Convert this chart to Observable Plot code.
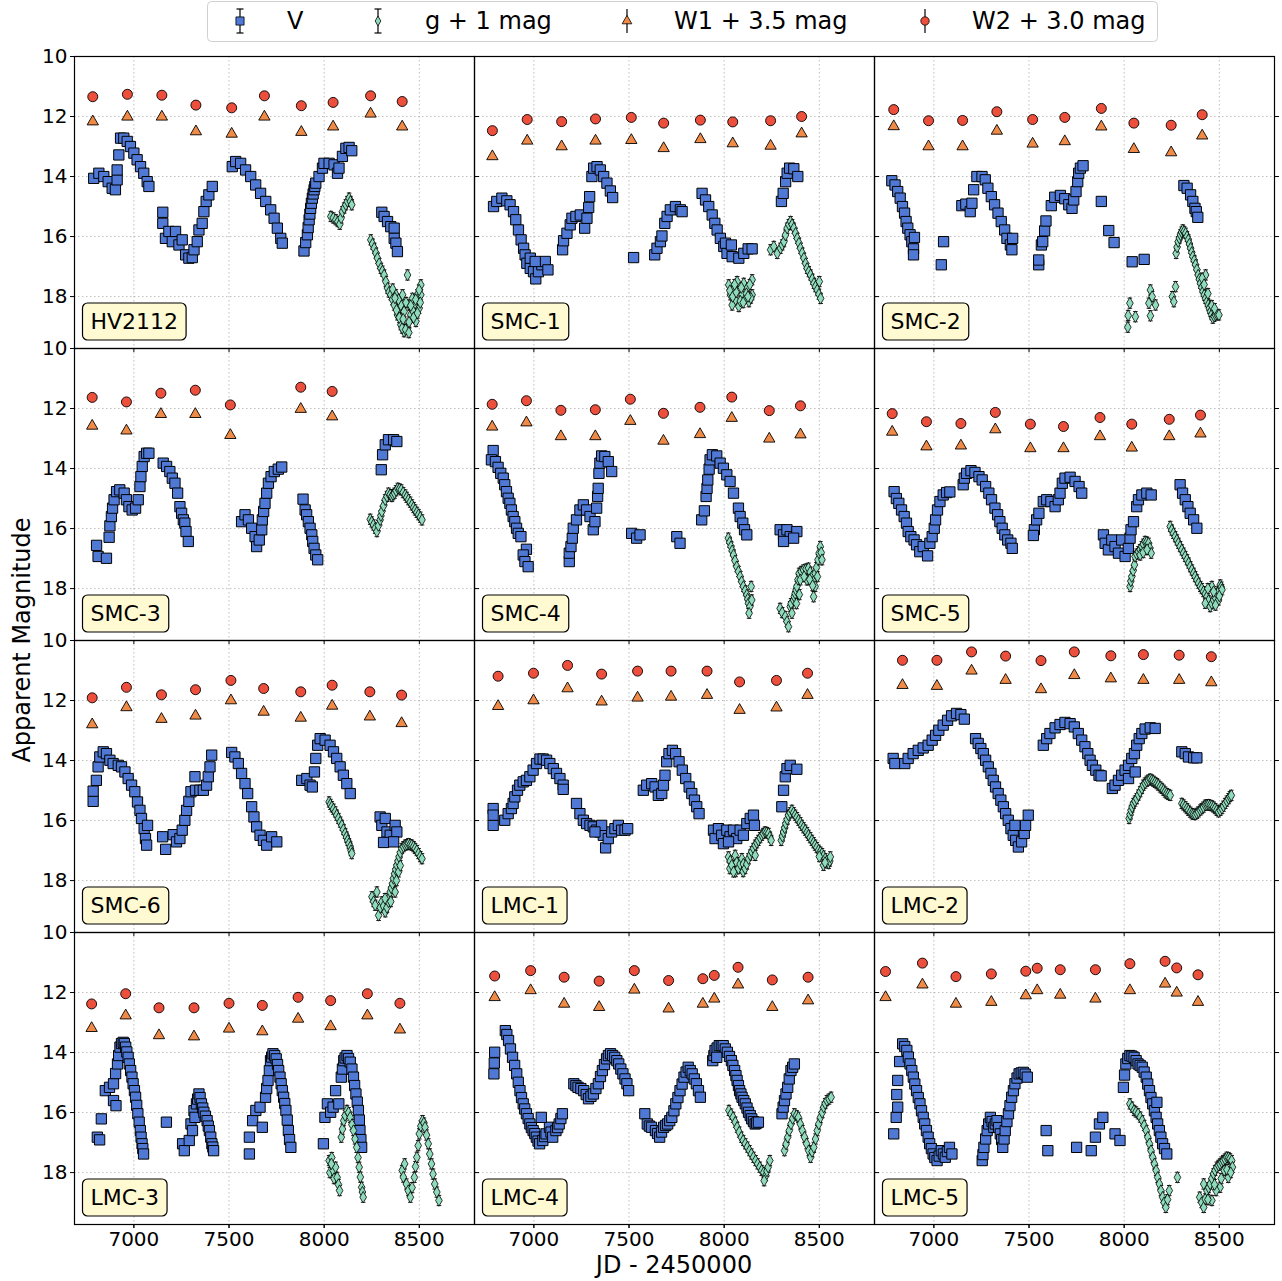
<!DOCTYPE html>
<html>
<head>
<meta charset="utf-8">
<script src="https://cdn.jsdelivr.net/npm/d3@7"></script>
<script src="https://cdn.jsdelivr.net/npm/@observablehq/plot@0.6"></script>
<style>
  html, body { margin: 0; padding: 0; background: white; }
  #wrap { position: relative; width: 1282px; height: 1281px; font-family: "DejaVu Sans", sans-serif; }
  #legend { position: absolute; left: 207px; top: 1px; }
</style>
</head>
<body>
<div id="wrap"><div id="legend"></div></div>
<script>
// ---------------- DATA ----------------
const panelNames = ["HV2112","SMC-1","SMC-2","SMC-3","SMC-4","SMC-5","SMC-6","LMC-1","LMC-2","LMC-3","LMC-4","LMC-5"];
const legendLabels = ["V", "g + 1 mag", "W1 + 3.5 mag", "W2 + 3.0 mag"];
const xTicks = [7000, 7500, 8000, 8500];
const yTicks = [10, 12, 14, 16, 18];
const gErr = 0.17;

const HV2112_W2 = [[6784,11.34],[6966,11.26],[7147,11.29],[7326,11.62],[7514,11.71],[7686,11.31],[7880,11.64],[8047,11.53],[8244,11.31],[8410,11.5]];
const HV2112_W1 = [[6784,12.17],[6966,12.01],[7147,12.01],[7326,12.5],[7514,12.58],[7686,12.01],[7880,12.52],[8047,12.34],[8244,11.91],[8410,12.34]];
const HV2112_V = [[6789,14.06],[6816,13.89],[6842,14.0],[6865,14.17],[6886,14.39],[6903,14.44],[6912,14.11],[6912,13.78],
[6921,13.28],[6930,12.72],[6947,12.72],[6965,12.83],[6982,13.0],[7000,13.22],[7017,13.44],[7035,13.67],[7052,13.89],[7070,14.17],[7079,14.33],
[7152,15.19],[7152,15.56],[7166,16.06],[7184,15.83],[7202,16.17],[7219,15.83],[7237,16.28],[7254,16.11],[7272,16.61],[7289,16.72],[7307,16.7],[7316,16.44],[7333,16.17],[7342,15.78],[7359,15.56],[7368,15.17],[7380,14.83],[7394,14.61],[7412,14.33],
[7517,13.67],[7535,13.5],[7561,13.56],[7587,13.78],[7614,14.0],[7640,14.28],[7666,14.56],[7693,14.83],[7719,15.11],[7737,15.39],[7754,15.72],[7772,16.06],[7780,16.22],
[7894,16.48],[7903,16.2],[7912,15.94],[7916,15.7],[7921,15.44],[7925,15.25],[7929,15.06],[7933,14.89],[7938,14.72],[7942,14.58],[7947,14.44],[7951,14.33],[7956,14.22],[7973,14.0],[7991,13.72],[7999,13.56],[8026,13.56],[8052,13.61],[8070,13.89],[8078,13.72],[8096,13.33],[8114,13.06],[8131,13.03],[8145,13.14],
[8303,15.19],[8315,15.33],[8333,15.5],[8350,15.67],[8368,15.72],[8368,16.06],[8377,16.22],[8385,16.5]];
const HV2112_g = [[8035,15.33],[8048,15.38],[8061,15.44],[8072,15.5],[8082,15.59],[8089,15.38],[8096,15.17],[8105,15.05],[8114,14.94],[8122,14.83],[8131,14.72],[8138,14.83],[8145,14.94],
[8245,16.11],[8254,16.25],[8263,16.39],[8272,16.55],[8280,16.72],[8289,16.9],[8298,17.06],[8306,17.15],[8315,17.28],[8324,17.5],[8333,17.72],[8341,17.85],[8350,17.94],[8359,18.1],[8368,18.28],[8385,18.61],[8403,18.94],[8420,19.17],[8438,19.06],[8455,18.61],[8473,18.28],[8490,17.94],[8508,17.61],[8438,17.28],[8412,17.94],[8464,18.06],[8499,18.39],[8394,18.39],[8377,17.94],[8403,18.28],[8447,18.28],[8482,18.83],[8508,17.94],
[8380,18.45],[8395,18.7],[8410,19.05],[8428,19.1],[8446,18.85],[8464,18.45],[8481,18.1],[8499,17.78],[8390,18.1],[8420,18.5],[8430,18.2],[8455,18.3],[8470,18.7],[8490,18.55],[8505,18.2],[8415,18.75],[8445,19.2],[8360,17.75],[8372,18.05]];

const SMC1_W2 = [[6782,12.47],[6965,12.1],[7146,12.17],[7324,12.08],[7512,12.03],[7682,12.22],[7875,12.12],[8045,12.18],[8244,12.14],[8407,12.0]];
const SMC1_W1 = [[6782,13.33],[6965,12.81],[7146,13.0],[7324,12.81],[7512,12.79],[7682,13.06],[7875,12.76],[8045,12.9],[8244,12.98],[8407,12.57]];
const SMC1_V = [[6788,15.0],[6805,14.83],[6832,14.72],[6858,14.81],[6875,14.94],[6893,15.17],[6905,15.44],[6919,15.78],[6933,16.11],[6946,16.39],[6954,16.61],[6963,16.89],[6981,17.06],[6998,17.17],[7010,17.41],[7024,17.17],[7042,16.94],[7060,16.83],[7074,17.11],[6981,16.72],[7007,16.83],
[7151,16.44],[7156,16.14],[7174,15.89],[7191,15.61],[7200,15.39],[7221,15.33],[7244,15.28],[7267,15.72],[7279,15.39],[7288,15.03],[7293,14.67],
[7305,14.0],[7314,13.72],[7332,13.67],[7349,13.78],[7367,14.0],[7384,14.22],[7402,14.48],[7414,14.7],
[7524,16.7],[7635,16.61],[7647,16.39],[7665,16.17],[7673,15.98],[7688,15.56],[7700,15.33],[7717,15.11],[7744,15.0],[7770,15.11],[7779,15.17],
[7884,14.56],[7902,14.78],[7919,15.0],[7937,15.28],[7951,15.56],[7963,15.78],[7980,16.06],[7998,16.33],[8015,16.56],[8042,16.67],[8077,16.72],[8103,16.56],[8126,16.41],[8147,16.41],[8007,16.22],[8038,16.28],
[8301,14.83],[8310,14.56],[8323,14.17],[8331,13.89],[8344,13.72],[8366,13.74],[8387,14.0]];
const SMC1_g = [[8024,17.61],[8033,17.94],[8051,17.72],[8059,18.11],[8077,18.33],[8094,17.94],[8103,17.56],[8121,17.72],[8130,18.17],[8147,17.44],[8147,17.94],[8068,17.5],[8042,18.28],[8112,18.06],
[8030,17.8],[8045,18.0],[8063,17.85],[8085,18.15],[8100,18.2],[8117,17.9],[8135,17.6],[8140,18.05],[8055,17.6],[8090,17.7],[8125,18.0],
[8244,16.44],[8261,16.33],[8279,16.56],[8296,16.39],[8305,16.28],[8314,16.17],[8322,15.95],[8331,15.72],[8340,15.6],[8349,15.5],[8357,15.6],[8366,15.72],[8375,15.89],[8384,16.06],[8393,16.22],[8401,16.39],[8410,16.55],[8419,16.72],[8428,16.9],[8436,17.06],[8445,17.17],[8454,17.28],[8463,17.42],[8472,17.56],[8480,17.67],[8489,17.78],[8498,17.92],[8507,18.06],[8500,17.5]];

const SMC2_W2 = [[6789,11.77],[6972,12.14],[7151,12.13],[7331,11.84],[7519,12.1],[7688,12.03],[7880,11.73],[8051,12.22],[8247,12.29],[8410,11.94]];
const SMC2_W1 = [[6789,12.33],[6972,13.0],[7151,13.0],[7331,12.48],[7519,12.91],[7688,12.83],[7880,12.34],[8051,13.09],[8247,13.2],[8410,12.64]];
const SMC2_V = [[6779,14.14],[6796,14.28],[6810,14.5],[6823,14.72],[6835,15.0],[6846,15.22],[6854,15.5],[6863,15.72],[6875,15.94],[6884,16.17],[6893,16.41],[6893,16.61],[6898,16.03],
[7051,16.17],[7039,16.94],
[7147,14.97],[7168,14.92],[7191,15.17],[7200,14.89],[7209,14.44],[7226,14.0],[7253,14.0],[7270,14.11],[7284,14.39],[7302,14.67],[7319,14.94],[7337,15.22],[7354,15.5],[7372,15.78],[7384,16.06],[7402,16.28],[7414,16.06],[7410,16.44],
[7551,16.94],[7551,16.78],[7565,16.28],[7572,16.17],[7582,15.81],[7589,15.48],[7617,14.97],[7635,14.69],[7665,14.63],[7688,14.74],[7709,14.94],[7726,15.06],[7735,14.78],[7747,14.5],[7756,14.17],[7761,13.89],[7770,13.72],[7784,13.64],
[7880,14.83],[7919,15.8],[7947,16.2],[8042,16.84],[8105,16.76],
[8314,14.3],[8331,14.39],[8349,14.61],[8361,14.83],[8372,15.06],[8379,15.17],[8387,15.36]];
const SMC2_g = [[8030,18.22],[8021,18.63],[8059,18.67],[8019,19.02],[8138,17.78],[8147,18.0],[8130,18.22],[8165,18.28],[8138,18.64],[8270,17.67],[8253,18.0],[8261,18.17],[8273,16.56],[8278,16.35],[8284,16.17],[8290,16.05],[8296,15.94],[8302,15.85],[8308,15.78],[8315,15.83],[8323,15.89],[8330,16.0],[8337,16.11],[8343,16.25],[8349,16.39],[8355,16.53],[8361,16.67],[8368,16.8],[8375,16.94],[8382,17.1],[8389,17.28],[8395,17.42],[8401,17.56],[8408,17.7],[8414,17.83],[8421,17.95],[8428,18.06],[8435,18.17],[8442,18.28],[8448,18.39],[8454,18.5],[8460,18.6],[8466,18.72],[8473,18.66],[8480,18.61],[8489,18.6],[8498,18.61],[8428,17.28],[8410,17.39],[8420,17.6],[8440,17.9],[8460,18.3],[8475,18.4]];

const SMC3_W2 = [[6781,11.63],[6961,11.78],[7142,11.49],[7323,11.39],[7507,11.88],[7877,11.29],[8042,11.43]];
const SMC3_W1 = [[6781,12.58],[6961,12.74],[7142,12.19],[7323,12.19],[7507,12.89],[7877,12.02],[8042,12.27]];
const SMC3_V = [[6804,16.56],[6812,16.93],[6856,16.99],[6870,16.29],[6874,15.91],[6882,15.6],[6888,15.32],[6896,15.04],[6909,14.77],[6926,14.71],[6949,14.82],[6961,15.04],[6974,15.27],[6991,15.38],[7009,15.32],[7023,15.04],[7032,14.6],[7037,14.27],[7044,13.93],[7054,13.6],[7067,13.49],[7079,13.49],
[7154,13.82],[7172,13.93],[7189,14.1],[7202,14.32],[7216,14.49],[7230,14.82],[7242,15.27],[7251,15.49],[7260,15.71],[7268,15.82],[7274,16.1],[7286,16.43],
[7566,15.77],[7584,15.54],[7602,15.71],[7619,15.99],[7637,16.27],[7645,16.6],[7659,16.38],[7672,16.04],[7675,15.71],[7682,15.43],[7689,15.16],[7698,14.82],[7707,14.49],[7721,14.27],[7738,14.1],[7759,14.02],[7777,13.95],
[7889,15.02],[7900,15.38],[7908,15.54],[7917,15.77],[7926,15.99],[7935,16.21],[7940,16.43],[7947,16.66],[7956,16.88],[7966,17.04],
[8300,14.04],[8307,13.54],[8321,13.21],[8338,13.04],[8365,13.04],[8382,13.1]];
const SMC3_g = [[8242,15.69],[8250,15.78],[8259,15.88],[8268,15.99],[8277,16.1],[8285,15.9],[8294,15.71],[8298,15.57],[8303,15.43],[8312,15.24],[8321,15.04],[8330,14.93],[8338,14.82],[8347,14.87],[8356,14.93],[8362,14.87],[8370,14.82],[8378,14.74],[8387,14.66],[8396,14.68],[8405,14.71],[8415,14.8],[8426,14.88],[8434,14.96],[8443,15.04],[8452,15.12],[8461,15.21],[8470,15.3],[8478,15.38],[8487,15.46],[8496,15.54],[8505,15.62],[8514,15.71]];

const SMC4_W2 = [[6781,11.86],[6961,11.74],[7142,12.06],[7323,12.04],[7507,11.69],[7681,12.16],[7873,11.96],[8040,11.62],[8237,12.07],[8401,11.91]];
const SMC4_W1 = [[6781,12.61],[6961,12.47],[7142,12.93],[7323,12.93],[7507,12.42],[7681,13.08],[7873,12.86],[8040,12.32],[8237,13.01],[8401,12.87]];
const SMC4_V = [[6786,13.4],[6777,13.71],[6798,13.77],[6812,13.96],[6826,14.16],[6839,14.32],[6847,14.54],[6856,14.77],[6865,14.99],[6874,15.16],[6882,15.38],[6891,15.6],[6900,15.77],[6909,15.99],[6918,16.16],[6932,16.27],[6961,16.69],[6944,16.88],[6953,17.1],[6970,17.27],
[7186,17.1],[7186,16.82],[7195,16.6],[7202,16.32],[7207,15.99],[7224,15.71],[7242,15.38],[7260,15.21],[7277,15.38],[7295,15.6],[7312,16.04],[7321,15.77],[7330,15.32],[7335,14.93],[7338,14.66],[7342,14.16],[7347,13.82],[7356,13.58],[7373,13.6],[7391,13.77],[7409,14.1],
[7514,16.16],[7540,16.32],[7558,16.21],[7751,16.27],[7768,16.49],
[7882,15.71],[7896,15.41],[7905,14.93],[7910,14.66],[7914,14.38],[7921,14.02],[7926,13.71],[7938,13.54],[7961,13.58],[7979,13.82],[7996,13.99],[8014,14.21],[8031,14.43],[8049,14.82],[8075,15.32],[8084,15.6],[8098,15.82],[8107,16.04],[8119,16.21],
[8294,16.04],[8312,16.21],[8330,16.04],[8347,16.27],[8382,16.1],[8312,16.43],[8365,16.32]];
const SMC4_g = [[8022,16.32],[8029,16.46],[8036,16.6],[8042,16.74],[8049,16.88],[8057,17.07],[8066,17.27],[8075,17.43],[8084,17.6],[8092,17.77],[8101,17.93],[8110,18.07],[8119,18.21],[8124,18.35],[8128,18.49],[8135,18.6],[8131,18.82],[8145,18.38],[8142,17.93],
[8294,18.66],[8305,18.8],[8321,18.93],[8330,19.1],[8338,19.27],[8347,18.6],[8352,18.5],[8365,18.38],[8369,18.27],[8373,18.16],[8378,18.05],[8382,17.93],[8388,17.7],[8394,17.49],[8405,17.43],[8417,17.38],[8430,17.35],[8443,17.32],[8452,17.45],[8461,17.6],[8470,17.75],[8478,17.93],[8478,17.49],[8485,17.3],[8493,17.04],[8499,16.82],[8505,16.6],[8510,16.8],[8514,17.04],[8470,18.27],[8356,18.82],[8400,17.71],[8435,17.71],[8420,17.6],[8450,17.7],[8465,17.9],[8490,17.6],[8380,18.5],[8395,18.2]];

const SMC5_W2 = [[6781,12.17],[6961,12.44],[7142,12.5],[7323,12.13],[7507,12.52],[7681,12.6],[7873,12.3],[8040,12.52],[8237,12.36],[8401,12.22]];
const SMC5_W1 = [[6781,12.78],[6961,13.27],[7142,13.24],[7323,12.7],[7507,13.33],[7681,13.33],[7873,12.93],[8040,13.31],[8237,12.93],[8401,12.84]];
const SMC5_V = [[6791,14.77],[6803,15.0],[6816,15.16],[6830,15.38],[6844,15.6],[6856,15.82],[6865,16.1],[6879,16.27],[6896,16.38],[6909,16.54],[6926,16.77],[6944,16.6],[6967,16.91],[6979,16.49],[6991,16.27],[7002,15.99],[7009,15.71],[7019,15.38],[7032,15.1],[7049,14.88],[7067,14.8],[7084,14.78],
[7154,14.54],[7160,14.32],[7172,14.16],[7195,14.07],[7216,14.13],[7237,14.27],[7254,14.38],[7272,14.6],[7289,14.82],[7303,15.04],[7321,15.32],[7335,15.54],[7347,15.77],[7359,15.99],[7373,16.21],[7388,16.38],[7405,16.49],[7412,16.66],
[7528,16.04],[7523,16.23],[7540,15.71],[7552,15.49],[7575,15.1],[7593,15.04],[7615,15.1],[7637,15.27],[7654,15.04],[7663,14.82],[7675,14.49],[7689,14.32],[7716,14.29],[7742,14.43],[7763,14.6],[7777,14.82],
[7891,16.21],[7900,16.49],[7917,16.71],[7935,16.38],[7952,16.6],[7970,16.82],[7987,16.38],[8005,16.93],[8022,16.66],[8031,16.32],[8036,16.04],[8049,15.77],[8066,15.27],[8075,15.04],[8093,14.88],[8119,14.82],[8142,14.88],
[8294,14.54],[8307,14.82],[8321,15.04],[8335,15.27],[8347,15.49],[8365,15.71],[8382,15.99]];
const SMC5_g = [[8031,17.93],[8035,17.75],[8040,17.6],[8047,17.4],[8054,17.21],[8057,16.93],[8066,16.85],[8075,16.77],[8084,16.7],[8093,16.6],[8101,16.52],[8110,16.43],[8119,16.45],[8128,16.49],[8135,16.65],[8142,16.82],[8084,16.88],[8100,16.8],[8120,16.7],
[8242,15.93],[8250,16.05],[8259,16.16],[8268,16.27],[8277,16.38],[8285,16.49],[8294,16.6],[8303,16.71],[8312,16.82],[8321,16.93],[8330,17.04],[8339,17.15],[8347,17.27],[8356,17.38],[8365,17.49],[8373,17.6],[8382,17.71],[8391,17.82],[8400,17.93],[8408,18.0],[8417,18.1],[8426,18.18],[8435,18.27],[8443,18.4],[8452,18.6],[8461,18.5],[8470,18.38],[8479,18.3],[8487,18.16],[8496,18.1],[8505,17.88],[8510,17.95],[8514,18.04],[8461,17.93],[8496,18.38],[8426,18.49],[8440,18.0],[8470,18.1],[8500,18.25],[8480,18.55]];

const SMC6_W2 = [[6781,11.91],[6961,11.56],[7145,11.81],[7324,11.64],[7510,11.33],[7682,11.6],[7877,11.71],[8042,11.49],[8240,11.71],[8407,11.82]];
const SMC6_W1 = [[6781,12.8],[6961,12.23],[7145,12.62],[7324,12.51],[7510,12.0],[7682,12.38],[7877,12.58],[8042,12.18],[8240,12.54],[8407,12.76]];
const SMC6_V = [[6786,15.36],[6786,15.02],[6803,14.66],[6812,14.21],[6821,13.88],[6839,13.71],[6856,13.77],[6874,13.99],[6891,14.1],[6918,14.16],[6935,14.21],[6953,14.38],[6970,14.6],[6988,14.82],[7005,15.04],[7019,15.38],[7032,15.66],[7040,15.93],[7054,16.27],[7061,16.6],[7067,16.82],[7072,16.16],
[7151,16.54],[7167,16.96],[7207,16.47],[7224,16.71],[7242,16.6],[7254,16.32],[7268,15.99],[7277,15.66],[7289,15.36],[7300,15.04],[7321,14.54],[7324,14.99],[7347,14.99],[7365,14.99],[7382,14.82],[7391,14.54],[7400,14.21],[7409,13.82],
[7514,13.73],[7531,13.88],[7549,14.1],[7566,14.43],[7584,14.77],[7598,15.1],[7619,15.54],[7631,15.88],[7645,16.21],[7663,16.49],[7681,16.66],[7698,16.82],[7724,16.54],[7751,16.71],
[7882,14.66],[7909,14.6],[7926,14.82],[7938,14.88],[7949,14.38],[7956,13.93],[7966,13.49],[7979,13.27],[8005,13.32],[8031,13.49],[8049,13.71],[8066,13.93],[8084,14.21],[8101,14.49],[8119,14.77],[8137,15.1],
[8294,15.88],[8303,16.16],[8321,15.93],[8330,16.38],[8347,16.49],[8373,16.16],[8382,16.38],[8312,16.73],[8365,16.71]];
const SMC6_g = [[8026,15.38],[8033,15.46],[8040,15.54],[8049,15.62],[8058,15.71],[8066,15.82],[8075,15.93],[8084,16.05],[8093,16.16],[8101,16.3],[8110,16.43],[8117,16.55],[8124,16.66],[8130,16.77],[8137,16.88],[8141,17.0],[8145,17.1],
[8251,18.54],[8260,18.7],[8268,18.82],[8277,18.38],[8286,19.16],[8295,18.9],[8303,18.71],[8312,18.85],[8321,19.04],[8330,18.9],[8338,18.71],[8343,18.55],[8347,18.38],[8353,18.25],[8359,18.1],[8364,17.93],[8370,17.77],[8376,17.63],[8382,17.49],[8388,17.35],[8394,17.21],[8400,17.07],[8408,16.93],[8417,16.87],[8426,16.82],[8435,16.8],[8443,16.77],[8452,16.8],[8461,16.82],[8470,16.87],[8478,16.93],[8487,17.0],[8496,17.1],[8505,17.2],[8514,17.27],[8391,17.71],[8373,18.38],[8320,18.6],[8350,18.7],[8380,18.0],[8400,17.5]];

const LMC1_W2 = [[6812,11.19],[6998,11.09],[7177,10.83],[7356,11.12],[7545,11.02],[7721,11.02],[7910,11.02],[8081,11.38],[8275,11.33],[8438,11.09]];
const LMC1_W1 = [[6812,12.19],[6998,12.0],[7177,11.6],[7356,12.04],[7545,11.91],[7721,11.88],[7910,11.82],[8081,12.32],[8275,12.24],[8438,11.82]];
const LMC1_V = [[6786,15.6],[6786,16.16],[6786,15.82],[6847,15.99],[6865,15.77],[6882,15.6],[6891,15.43],[6900,15.21],[6914,14.99],[6926,14.82],[6944,14.71],[6961,14.66],[6979,14.54],[6996,14.32],[7014,14.1],[7032,13.95],[7049,13.95],[7067,13.99],[7084,14.1],[7102,14.27],[7119,14.43],[7137,14.6],[7154,14.82],[7154,14.96],
[7224,15.43],[7242,15.77],[7260,15.99],[7277,16.1],[7295,16.16],[7312,16.21],[7330,16.32],[7347,16.38],[7365,16.49],[7377,16.91],[7391,16.6],[7409,16.38],[7426,16.27],[7444,16.16],[7461,16.32],[7479,16.32],[7493,16.27],[7356,16.16],[7321,16.38],
[7575,14.99],[7593,14.82],[7619,14.77],[7637,14.88],[7654,15.16],[7672,15.1],[7681,14.82],[7689,14.49],[7698,14.04],[7710,13.77],[7728,13.66],[7745,13.77],[7763,14.04],[7780,14.32],[7798,14.6],[7816,14.88],[7830,15.1],[7844,15.32],[7856,15.54],[7868,15.77],
[7944,16.32],[7952,16.6],[7970,16.27],[7987,16.49],[7996,16.77],[8014,16.32],[8031,16.54],[8049,16.32],[8066,16.6],[8084,16.32],[8101,16.49],[8119,16.1],[8137,15.93],[8154,15.82],[8159,16.16],[8023,16.71],
[8303,15.54],[8312,14.99],[8321,14.54],[8330,14.27],[8347,14.16],[8382,14.29]];
const LMC1_g = [[8023,17.21],[8030,17.6],[8032,17.35],[8040,17.49],[8058,17.16],[8060,17.7],[8066,17.4],[8075,17.6],[8084,17.45],[8093,17.27],[8100,17.7],[8101,17.45],[8110,17.6],[8119,17.45],[8128,17.27],[8137,17.15],[8145,17.04],[8154,16.93],[8163,16.82],[8172,16.74],[8180,16.66],[8189,16.57],[8198,16.49],[8206,16.43],[8215,16.38],[8224,16.4],[8233,16.43],[8240,16.55],[8247,16.66],[8049,17.71],[8163,17.16],
[8300,16.66],[8306,16.52],[8312,16.38],[8318,16.24],[8324,16.1],[8331,15.96],[8338,15.82],[8347,15.74],[8356,15.66],[8365,15.74],[8373,15.82],[8382,15.9],[8391,15.99],[8400,16.07],[8408,16.16],[8417,16.24],[8426,16.32],[8435,16.4],[8443,16.49],[8452,16.57],[8461,16.66],[8470,16.74],[8478,16.82],[8487,16.9],[8496,16.99],[8505,17.05],[8514,17.1],[8522,17.18],[8531,17.27],[8540,17.35],[8549,17.43],[8555,17.35],[8558,17.21],[8522,17.49],[8500,17.2],[8530,17.4]];

const LMC2_W2 = [[6835,10.66],[7016,10.66],[7198,10.38],[7377,10.52],[7563,10.67],[7738,10.38],[7930,10.51],[8101,10.47],[8289,10.49],[8458,10.54]];
const LMC2_W1 = [[6835,11.49],[7016,11.52],[7198,11.01],[7377,11.32],[7563,11.63],[7738,11.16],[7930,11.27],[8101,11.32],[8289,11.32],[8458,11.4]];
const LMC2_V = [[6786,13.93],[6795,14.1],[6847,14.1],[6865,13.93],[6891,13.77],[6918,13.66],[6944,13.58],[6970,13.49],[6991,13.32],[7009,13.16],[7026,12.99],[7049,12.82],[7072,12.66],[7093,12.51],[7119,12.43],[7142,12.47],[7160,12.62],
[7219,13.27],[7233,13.43],[7247,13.6],[7260,13.77],[7272,13.99],[7286,14.21],[7300,14.43],[7312,14.66],[7324,14.88],[7338,15.1],[7352,15.32],[7365,15.54],[7377,15.77],[7391,15.99],[7405,16.27],[7417,16.49],[7430,16.66],[7444,16.88],[7461,16.71],[7475,16.43],[7482,16.16],[7496,15.82],[7426,16.16],
[7575,13.49],[7593,13.27],[7610,13.1],[7637,12.91],[7663,12.8],[7689,12.73],[7716,12.77],[7738,12.88],[7759,13.1],[7777,13.32],[7794,13.54],[7809,13.77],[7821,13.99],[7833,14.16],[7851,14.32],[7868,14.49],[7879,14.51],
[7938,14.93],[7952,14.82],[7970,14.66],[7987,14.49],[8005,14.32],[8023,14.16],[8040,13.93],[8054,13.77],[8066,13.49],[8079,13.27],[8093,13.1],[8110,12.95],[8137,12.91],[8163,12.93],[8023,14.6],[8058,14.38],
[8303,13.71],[8321,13.77],[8338,13.88],[8365,13.91],[8382,13.91]];
const LMC2_g = [[8026,15.93],[8031,15.8],[8036,15.66],[8042,15.55],[8049,15.43],[8057,15.35],[8066,15.27],[8075,15.15],[8084,15.04],[8093,14.93],[8101,14.82],[8110,14.75],[8119,14.69],[8128,14.65],[8137,14.62],[8146,14.65],[8154,14.69],[8163,14.73],[8172,14.77],[8180,14.82],[8189,14.88],[8198,14.93],[8207,14.99],[8215,15.05],[8224,15.1],[8233,15.13],[8242,15.16],
[8303,15.43],[8312,15.48],[8321,15.54],[8330,15.6],[8338,15.66],[8347,15.72],[8356,15.77],[8364,15.79],[8373,15.8],[8382,15.76],[8391,15.71],[8400,15.65],[8408,15.6],[8417,15.55],[8426,15.49],[8435,15.48],[8443,15.47],[8452,15.49],[8461,15.51],[8470,15.55],[8478,15.6],[8487,15.66],[8496,15.71],[8505,15.66],[8514,15.6],[8522,15.52],[8531,15.43],[8540,15.35],[8549,15.27],[8556,15.2],[8563,15.16]];

const LMC3_W2 = [[6778,12.38],[6957,12.04],[7132,12.51],[7316,12.51],[7500,12.36],[7675,12.43],[7863,12.16],[8034,12.27],[8227,12.04],[8398,12.36]];
const LMC3_W1 = [[6778,13.19],[6957,12.77],[7132,13.43],[7316,13.47],[7500,13.21],[7675,13.3],[7863,12.88],[8034,13.13],[8227,12.77],[8398,13.24]];
const LMC3_V = [[6808,16.82],[6820,16.91],[6829,16.21],[6850,15.27],[6872,15.16],[6893,15.6],[6906,15.77],[6893,15.04],[6904,14.7],[6914,14.38],[6920,14.1],[6927,13.82],[6935,13.7],[6944,13.66],[6950,13.7],[6957,13.82],[6963,13.98],[6970,14.16],[6976,14.38],[6983,14.6],[6990,14.82],[6996,15.04],[7003,15.27],[7009,15.49],[7015,15.76],[7021,16.04],[7028,16.32],[7034,16.6],[7038,16.82],[7043,17.04],[7047,17.2],[7051,17.38],
[7171,16.32],
[7256,17.04],[7265,17.27],[7291,16.93],[7300,16.38],[7308,16.6],[7316,15.94],[7321,16.16],[7329,15.71],[7335,15.55],[7342,15.38],[7348,15.5],[7355,15.71],[7362,15.85],[7368,15.99],[7376,16.12],[7385,16.27],[7391,16.45],[7397,16.6],[7404,16.82],[7410,17.04],[7415,17.15],[7419,17.27],
[7607,16.82],[7607,17.38],[7624,16.27],[7641,15.93],[7663,15.82],[7675,16.49],[7692,15.49],[7698,15.2],[7705,14.93],[7712,14.6],[7718,14.27],[7724,14.15],[7731,14.04],[7740,14.1],[7748,14.21],[7755,14.4],[7761,14.6],[7768,14.82],[7774,15.04],[7780,15.27],[7787,15.49],[7793,15.7],[7799,15.93],[7806,16.25],[7812,16.6],[7818,16.9],[7825,17.16],
[7996,17.04],[8004,16.16],[8017,15.71],[8034,15.99],[8047,15.82],[8060,15.27],[8077,15.71],[8090,14.82],[8096,14.55],[8103,14.27],[8110,14.18],[8120,14.1],[8128,14.2],[8137,14.32],[8146,14.55],[8154,14.82],[8160,15.1],[8167,15.38],[8174,15.65],[8180,15.93],[8185,16.25],[8188,16.6],[8193,16.9],[8197,17.16]];
const LMC3_g = [[8026,17.6],[8030,18.0],[8040,17.5],[8047,17.93],[8052,18.2],[8068,18.16],[8075,18.4],[8081,18.6],[8090,16.82],[8096,16.55],[8103,16.27],[8110,16.1],[8120,15.93],[8128,16.0],[8137,16.16],[8146,16.4],[8154,16.6],[8162,16.88],[8171,17.16],[8178,17.5],[8184,17.82],[8190,18.15],[8197,18.49],[8201,18.65],[8205,18.82],[8060,17.82],[8038,17.71],
[8410,17.93],[8416,18.15],[8423,17.71],[8432,18.38],[8442,18.6],[8453,18.82],[8462,18.5],[8474,18.16],[8480,17.8],[8487,17.49],[8494,17.1],[8500,16.71],[8508,16.45],[8517,16.27],[8524,16.35],[8530,16.49],[8538,16.75],[8547,17.04],[8555,17.38],[8564,17.71],[8572,18.05],[8581,18.38],[8592,18.65],[8603,18.93]];

const LMC4_W2 = [[6794,11.45],[6983,11.27],[7159,11.49],[7343,11.62],[7528,11.27],[7708,11.6],[7888,11.54],[7948,11.43],[8073,11.16],[8253,11.58],[8441,11.49]];
const LMC4_W1 = [[6794,12.16],[6983,11.93],[7159,12.38],[7343,12.49],[7528,11.91],[7708,12.54],[7888,12.38],[7948,12.21],[8073,11.74],[8253,12.49],[8441,12.27]];
const LMC4_V = [[6790,14.71],[6792,14.35],[6794,13.99],[6850,13.27],[6858,13.4],[6867,13.6],[6877,13.88],[6888,14.16],[6899,14.43],[6910,14.71],[6918,14.99],[6927,15.27],[6935,15.5],[6944,15.71],[6952,15.88],[6961,16.04],[6970,16.2],[6979,16.38],[6987,16.5],[6996,16.6],[7005,16.7],[7013,16.82],[7022,16.95],[7030,17.04],[7047,16.93],[7056,16.8],[7064,16.71],[7082,16.49],[7090,16.65],[7099,16.82],[7116,16.6],[7125,16.5],[7133,16.38],[7142,16.2],[7150,16.04],[7039,16.16],
[7210,15.04],[7221,15.1],[7232,15.16],[7247,15.2],[7262,15.27],[7275,15.4],[7287,15.54],[7300,15.46],[7313,15.38],[7326,15.2],[7339,15.04],[7350,14.8],[7360,14.6],[7371,14.4],[7382,14.21],[7392,14.1],[7403,14.04],[7414,14.1],[7425,14.16],[7436,14.27],[7446,14.38],[7457,14.55],[7468,14.71],[7479,14.88],[7489,15.04],[7498,15.27],
[7583,16.04],[7596,16.38],[7607,16.45],[7618,16.49],[7639,16.6],[7650,16.7],[7661,16.82],[7671,16.65],[7682,16.49],[7693,16.43],[7703,16.38],[7714,16.27],[7725,16.16],[7736,15.94],[7746,15.71],[7757,15.5],[7768,15.27],[7779,15.05],[7789,14.82],[7800,14.65],[7811,14.49],[7822,14.6],[7832,14.71],[7843,14.88],[7854,15.04],[7865,15.27],[7875,15.49],
[7940,14.27],[7946,14.1],[7952,13.93],[7963,13.85],[7974,13.77],[7985,13.77],[7995,13.77],[8006,13.88],[8017,13.99],[8028,14.13],[8038,14.27],[8046,14.43],[8055,14.6],[8062,14.77],[8068,14.93],[8075,15.1],[8081,15.27],[8088,15.38],[8094,15.49],[8103,15.6],[8111,15.71],[8120,15.85],[8128,15.99],[8137,16.1],[8145,16.21],[8154,16.3],[8163,16.38],[8171,16.35],[8180,16.32],[7961,14.16],
[8304,16.04],[8310,15.82],[8317,15.6],[8325,15.38],[8334,15.16],[8342,14.88],[8351,14.6],[8360,14.49],[8369,14.38]];
const LMC4_g = [[8025,15.93],[8036,16.05],[8047,16.16],[8058,16.32],[8068,16.49],[8079,16.65],[8090,16.82],[8100,16.93],[8111,17.04],[8122,17.15],[8133,17.27],[8143,17.38],[8154,17.49],[8165,17.6],[8176,17.71],[8187,17.82],[8197,17.93],[8208,18.0],[8219,18.1],[8225,17.95],[8231,17.82],[8210,18.27],[8240,17.6],
[8317,17.27],[8325,17.05],[8334,16.82],[8342,16.6],[8351,16.38],[8360,16.2],[8369,16.04],[8380,16.1],[8390,16.16],[8400,16.38],[8411,16.6],[8422,16.82],[8433,17.04],[8444,17.27],[8454,17.49],[8462,17.3],[8471,17.16],[8480,16.88],[8489,16.6],[8497,16.38],[8506,16.16],[8515,16.0],[8523,15.82],[8531,15.7],[8540,15.6],[8551,15.55],[8562,15.49]];

const LMC5_W2 = [[6746,11.3],[6940,11.02],[7116,11.47],[7302,11.38],[7483,11.29],[7543,11.19],[7664,11.24],[7849,11.24],[8030,11.04],[8215,10.96],[8276,11.18],[8388,11.41]];
const LMC5_W1 = [[6746,12.16],[6940,11.74],[7116,12.38],[7302,12.32],[7483,12.1],[7543,11.93],[7664,12.08],[7849,12.21],[8030,11.93],[8215,11.71],[8276,12.01],[8388,12.32]];
const LMC5_V = [[6789,16.71],[6802,16.16],[6805,15.4],[6810,15.82],[6810,14.93],[6820,14.3],[6836,13.71],[6847,13.8],[6858,13.93],[6866,14.15],[6875,14.38],[6884,14.6],[6892,14.82],[6900,15.05],[6909,15.27],[6918,15.5],[6927,15.71],[6935,15.94],[6944,16.16],[6952,16.38],[6961,16.6],[6970,16.82],[6978,17.04],[6987,17.2],[6996,17.38],[7005,17.5],[7017,17.6],[7028,17.45],[7039,17.27],[7050,17.38],[7060,17.49],[7071,17.3],[7082,17.16],[7095,17.38],
[7254,17.6],[7258,17.4],[7263,17.16],[7272,16.88],[7280,16.6],[7288,16.38],[7297,16.16],[7306,16.3],[7315,16.49],[7323,16.38],[7332,16.27],[7340,16.5],[7349,16.71],[7356,16.9],[7362,17.16],[7369,16.88],[7375,16.6],[7384,16.3],[7392,16.04],[7400,15.77],[7409,15.49],[7418,15.27],[7426,15.04],[7437,14.85],[7448,14.71],[7459,14.68],[7470,14.66],[7480,14.72],[7491,14.82],
[7590,16.6],[7599,17.27],[7750,17.16],[7827,17.27],[7849,16.82],[7870,16.38],[7888,16.16],[7952,16.71],[7978,16.93],
[7996,15.16],[8002,14.75],[8009,14.38],[8019,14.2],[8030,14.1],[8041,14.12],[8052,14.16],[8063,14.27],[8073,14.38],[8084,14.43],[8095,14.49],[8105,14.65],[8116,14.82],[8124,15.05],[8133,15.27],[8141,15.5],[8150,15.71],[8159,15.94],[8168,16.16],[8176,16.38],[8185,16.6],[8193,16.82],[8202,17.04],[8212,17.2],[8224,17.38],[8172,15.66]];
const LMC5_g = [[8030,15.71],[8041,15.82],[8052,15.93],[8062,15.98],[8073,16.04],[8084,16.15],[8095,16.27],[8105,16.43],[8116,16.6],[8124,16.82],[8133,17.04],[8141,17.27],[8150,17.49],[8159,17.71],[8168,17.93],[8176,18.16],[8185,18.38],[8193,18.6],[8202,18.82],[8210,19.0],[8219,19.16],[8228,18.9],[8237,18.6],[8280,18.16],
[8397,18.82],[8407,19.0],[8418,19.16],[8426,18.88],[8435,18.6],[8444,18.5],[8452,18.38],[8461,18.2],[8470,18.04],[8478,17.93],[8487,17.82],[8496,17.76],[8504,17.71],[8513,17.65],[8521,17.6],[8530,17.55],[8539,17.49],[8548,17.5],[8556,17.54],[8565,17.6],[8418,18.38],[8461,18.93],[8504,18.49],[8547,18.16],[8526,17.93],[8483,18.6],[8569,17.82],[8440,18.9],[8475,18.4],[8510,18.2],[8540,17.9],[8560,18.0]];

const panelV  = [HV2112_V, SMC1_V, SMC2_V, SMC3_V, SMC4_V, SMC5_V, SMC6_V, LMC1_V, LMC2_V, LMC3_V, LMC4_V, LMC5_V];
const panelG  = [HV2112_g, SMC1_g, SMC2_g, SMC3_g, SMC4_g, SMC5_g, SMC6_g, LMC1_g, LMC2_g, LMC3_g, LMC4_g, LMC5_g];
const panelW1 = [HV2112_W1, SMC1_W1, SMC2_W1, SMC3_W1, SMC4_W1, SMC5_W1, SMC6_W1, LMC1_W1, LMC2_W1, LMC3_W1, LMC4_W1, LMC5_W1];
const panelW2 = [HV2112_W2, SMC1_W2, SMC2_W2, SMC3_W2, SMC4_W2, SMC5_W2, SMC6_W2, LMC1_W2, LMC2_W2, LMC3_W2, LMC4_W2, LMC5_W2];

// ---------------- STYLE ----------------
const COL_V = "#4f79d4", COL_G = "#8fdcbc", COL_W1 = "#f08a47", COL_W2 = "#ec4f3c";
const FONT = "DejaVu Sans";

function flatten(list) {
  const out = [];
  list.forEach((arr, i) => arr.forEach(([jd, mag]) => out.push({jd, mag, col: i % 3, row: Math.floor(i / 3)})));
  return out;
}
const dV = flatten(panelV), dG = flatten(panelG), dW1 = flatten(panelW1), dW2 = flatten(panelW2);
const labels = panelNames.map((name, i) => ({name, col: i % 3, row: Math.floor(i / 3)}));

const capSymbol = { draw(ctx, size) { const w = Math.sqrt(size); ctx.moveTo(-w / 2, 0); ctx.lineTo(w / 2, 0); } };

const fmt = d => String(d);
const blank = () => "";
const plot = Plot.plot({
  width: 1282, height: 1281,
  marginTop: 55, marginLeft: 73, marginRight: 8, marginBottom: 57,
  style: {fontFamily: FONT, fontSize: "20px", color: "black", background: "white"},
  x: {domain: [6688, 8790], label: null},
  y: {domain: [10, 19.73], reverse: true, label: null},
  fx: {domain: [0, 1, 2], padding: 0, axis: null},
  fy: {domain: [0, 1, 2, 3], padding: 0, axis: null},
  marks: [
    Plot.gridX({ticks: xTicks, stroke: "#b8b8b8", strokeOpacity: 1, strokeWidth: 0.9, strokeDasharray: "1.5,2.5"}),
    Plot.gridY({ticks: yTicks.slice(1), stroke: "#b8b8b8", strokeOpacity: 1, strokeWidth: 0.9, strokeDasharray: "1.5,2.5"}),
    Plot.axisY({ticks: yTicks, tickSize: 4, tickPadding: 3, tickFormat: fmt, fontSize: 20, label: null}),
    Plot.axisX({ticks: xTicks, tickSize: 4, tickPadding: 3, tickFormat: fmt, fontSize: 20, label: null}),
    Plot.axisY({anchor: "right", ticks: yTicks.slice(1), tickSize: 4, tickFormat: blank, label: null, facetAnchor: null}),
    Plot.axisX({anchor: "bottom", ticks: xTicks, tickSize: 4, tickFormat: blank, label: null, facetAnchor: null}),
    Plot.dot(dV, {x: "jd", y: "mag", fx: "col", fy: "row", symbol: "square", r: 5.8, fill: COL_V, stroke: "black", strokeWidth: 1}),
    Plot.ruleX(dG, {x: "jd", y1: d => d.mag - gErr, y2: d => d.mag + gErr, fx: "col", fy: "row", stroke: "black", strokeWidth: 0.9}),
    Plot.dot(dG, {x: "jd", y: d => d.mag - gErr, fx: "col", fy: "row", symbol: capSymbol, r: 2.6, stroke: "black", strokeWidth: 0.9}),
    Plot.dot(dG, {x: "jd", y: d => d.mag + gErr, fx: "col", fy: "row", symbol: capSymbol, r: 2.6, stroke: "black", strokeWidth: 0.9}),
    Plot.dot(dG, {x: "jd", y: "mag", fx: "col", fy: "row", symbol: "diamond", r: 3.5, fill: COL_G, stroke: "black", strokeWidth: 0.8}),
    Plot.dot(dW1, {x: "jd", y: "mag", fx: "col", fy: "row", symbol: "triangle", r: 4.2, fill: COL_W1, stroke: "black", strokeWidth: 0.9}),
    Plot.dot(dW2, {x: "jd", y: "mag", fx: "col", fy: "row", symbol: "circle", r: 5.0, fill: COL_W2, stroke: "black", strokeWidth: 0.9}),
    Plot.frame({stroke: "black", strokeWidth: 1.2}),
    Plot.text(labels, {fx: "col", fy: "row", text: "name", frameAnchor: "bottom-left", dx: 16, dy: -19.5, textAnchor: "start", fontSize: 22, fill: "black"})
  ]
});

const wrap = document.getElementById("wrap");
wrap.insertBefore(plot, wrap.firstChild);

// label boxes behind panel names
const nameSet = new Set(panelNames);
plot.querySelectorAll("text").forEach(t => {
  if (!nameSet.has(t.textContent)) return;
  const bb = t.getBBox();
  const r = document.createElementNS("http://www.w3.org/2000/svg", "rect");
  r.setAttribute("x", bb.x - 8);
  r.setAttribute("y", bb.y - 6);
  r.setAttribute("width", bb.width + 16);
  r.setAttribute("height", bb.height + 12);
  r.setAttribute("rx", 5);
  r.setAttribute("fill", "#fffad2");
  r.setAttribute("stroke", "black");
  r.setAttribute("stroke-width", 1.2);
  const tr = t.getAttribute("transform");
  if (tr) r.setAttribute("transform", tr);
  t.parentNode.insertBefore(r, t);
});

// axis titles
const svg = d3.select(plot);
svg.append("text").attr("transform", "translate(22,640) rotate(-90)")
  .attr("text-anchor", "middle").attr("dy", "0.35em")
  .style("font-family", FONT).style("font-size", "24px").attr("fill", "black")
  .text("Apparent Magnitude");
svg.append("text").attr("x", 674).attr("y", 1265)
  .attr("text-anchor", "middle").attr("dy", "0.35em")
  .style("font-family", FONT).style("font-size", "24px").attr("fill", "black")
  .text("JD - 2450000");

// legend
const legendColors = [COL_V, COL_G, COL_W1, COL_W2];
const legendSymbols = [d3.symbolSquare, d3.symbolDiamond, d3.symbolTriangle, d3.symbolCircle];
const legendR = [4.6, 3.0, 3.6, 4.2];
const legendCaps = [true, true, false, false];
const lsvg = d3.select("#legend").append("svg").attr("width", 952).attr("height", 43);
lsvg.append("rect").attr("x", 0.5).attr("y", 0.5).attr("width", 950).attr("height", 40).attr("rx", 4)
  .attr("fill", "white").attr("stroke", "#d0d0d0").attr("stroke-width", 1);
const itemX = [33, 171, 420, 718];
legendLabels.forEach((lab, i) => {
  const g = lsvg.append("g").attr("transform", `translate(${itemX[i]},20)`);
  g.append("line").attr("y1", -12).attr("y2", 12).attr("stroke", "black").attr("stroke-width", 1.2);
  if (legendCaps[i]) {
    g.append("line").attr("x1", -3.5).attr("x2", 3.5).attr("y1", -12).attr("y2", -12).attr("stroke", "black").attr("stroke-width", 1.2);
    g.append("line").attr("x1", -3.5).attr("x2", 3.5).attr("y1", 12).attr("y2", 12).attr("stroke", "black").attr("stroke-width", 1.2);
  }
  g.append("path").attr("d", d3.symbol(legendSymbols[i], Math.PI * legendR[i] * legendR[i])())
    .attr("fill", legendColors[i]).attr("stroke", "black").attr("stroke-width", 0.8);
  lsvg.append("text").attr("x", itemX[i] + 47).attr("y", 20).attr("dy", "0.35em")
    .style("font-family", FONT).style("font-size", "24px").attr("fill", "black").text(lab);
});
</script>
</body>
</html>
